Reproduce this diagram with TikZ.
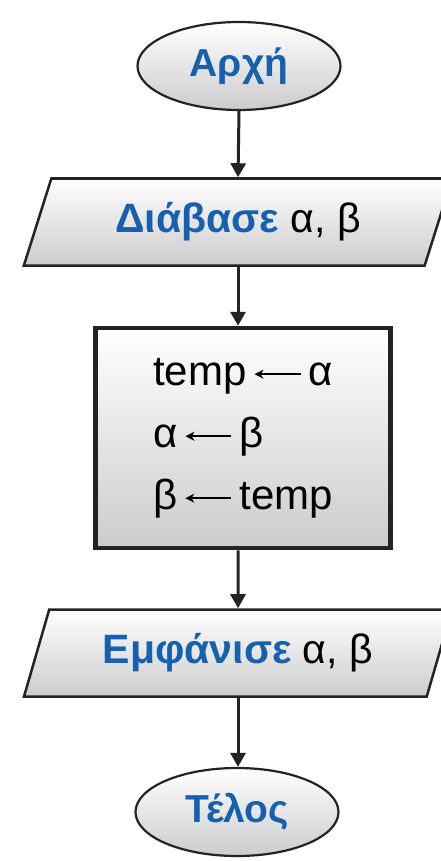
\documentclass[tikz,border=0pt]{standalone}
\usepackage{fontspec}
\setmainfont{Liberation Sans}
\usetikzlibrary{shapes.geometric,arrows.meta}
\definecolor{tblue}{RGB}{22,96,176}
\definecolor{edgec}{RGB}{35,35,35}
\newcommand{\larr}{\hspace{7pt}\tikz[baseline=-11pt]\draw[line width=2pt,{Stealth[length=9pt,width=9pt]}-] (0pt,0pt) -- (46pt,0pt);\hspace{7pt}}
\tikzset{
  shadebox/.style={top color=white, bottom color=black!20, draw=edgec},
  term/.style={ellipse, shadebox, line width=2.2pt, minimum width=203pt, minimum height=88pt, inner sep=0pt,
    font=\fontsize{39}{44}\selectfont\bfseries, text=tblue},
  io/.style={trapezium, trapezium left angle=65, trapezium right angle=115, trapezium stretches=true,
    shadebox, line width=2.5pt, minimum width=430pt, minimum height=87pt, inner sep=0pt,
    font=\fontsize{41}{48}\selectfont},
  proc/.style={rectangle, shadebox, line width=4.5pt, minimum width=295pt, minimum height=220pt,
    align=left, font=\fontsize{42}{62}\selectfont},
  flow/.style={line width=3pt, draw=edgec, -{Triangle[length=14pt,width=15pt]}},
}
\begin{document}
\begin{tikzpicture}[x=1pt,y=-1pt]
\useasboundingbox (0,0) rectangle (440,861);
\node[term] (start) at (239,66) {Αρχή};
\node[io] (read) at (238,222) {\textcolor{tblue}{\bfseries Διάβασε} α, β};
\node[proc] (swap) at (243,438) {temp\larr α\\ α\larr β\\ β\larr temp};
\node[io] (show) at (238,653) {\textcolor{tblue}{\bfseries Εμφάνισε} α, β};
\node[term] (end) at (237,812) {Τέλος};
\draw[flow] (start.south) -- (read.north);
\draw[flow] (read.south) -- (read.south |- swap.north);
\draw[flow] (read.south |- swap.south) -- (show.north);
\draw[flow] (show.south) -- (show.south |- end.north);
\end{tikzpicture}
\end{document}
